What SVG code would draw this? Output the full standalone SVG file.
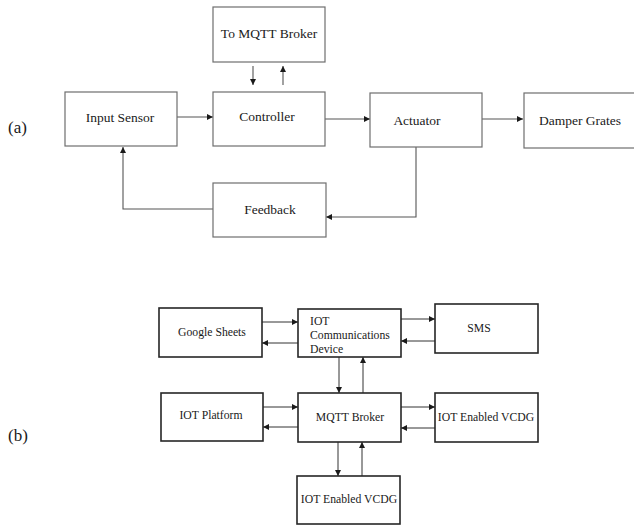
<svg xmlns="http://www.w3.org/2000/svg" width="634" height="525" viewBox="0 0 634 525">
<defs>
<style>
text{font-family:"Liberation Serif","Times New Roman",serif;fill:#1a1a1a}
.ta{font-size:13.5px}
.tb{font-size:11.7px}
.lbl{font-size:17px}
.ba{fill:#fff;stroke:#6e6e6e;stroke-width:1.2}
.bb{fill:#fff;stroke:#262626;stroke-width:1.6}
.ca{fill:none;stroke:#555;stroke-width:1.1}
.cb{fill:none;stroke:#333;stroke-width:1}
</style>
<marker id="ah" viewBox="0 0 10 10" refX="10" refY="5" markerWidth="6" markerHeight="6" markerUnits="userSpaceOnUse" orient="auto">
<path d="M0,0 L10,5 L0,10 z" fill="#1a1a1a"/>
</marker>
</defs>
<rect width="634" height="525" fill="#fff"/>
<text class="lbl" x="8" y="133">(a)</text>
<text class="lbl" x="8" y="441">(b)</text>

<g id="connectors">
<line class="ca" x1="253" y1="66" x2="253" y2="85" marker-end="url(#ah)"/>
<line class="ca" x1="283" y1="85" x2="283" y2="66" marker-end="url(#ah)"/>
<line class="ca" x1="177" y1="117" x2="213" y2="117" marker-end="url(#ah)"/>
<line class="ca" x1="325" y1="119" x2="370" y2="119" marker-end="url(#ah)"/>
<line class="ca" x1="482" y1="119" x2="523" y2="119" marker-end="url(#ah)"/>
<polyline class="ca" points="416,147 416,217 326,217" marker-end="url(#ah)"/>
<polyline class="ca" points="213,209 123,209 123,147" marker-end="url(#ah)"/>

<line class="cb" x1="262" y1="322" x2="298" y2="322" marker-end="url(#ah)"/>
<line class="cb" x1="298" y1="343" x2="262" y2="343" marker-end="url(#ah)"/>
<line class="cb" x1="401" y1="319" x2="435" y2="319" marker-end="url(#ah)"/>
<line class="cb" x1="435" y1="341" x2="401" y2="341" marker-end="url(#ah)"/>
<line class="cb" x1="339" y1="357" x2="339" y2="393" marker-end="url(#ah)"/>
<line class="cb" x1="363" y1="393" x2="363" y2="357" marker-end="url(#ah)"/>
<line class="cb" x1="263" y1="407" x2="298" y2="407" marker-end="url(#ah)"/>
<line class="cb" x1="298" y1="427" x2="263" y2="427" marker-end="url(#ah)"/>
<line class="cb" x1="401" y1="407" x2="435" y2="407" marker-end="url(#ah)"/>
<line class="cb" x1="435" y1="428" x2="401" y2="428" marker-end="url(#ah)"/>
<line class="cb" x1="338" y1="442" x2="338" y2="476" marker-end="url(#ah)"/>
<line class="cb" x1="362" y1="476" x2="362" y2="442" marker-end="url(#ah)"/>
</g>

<g id="mqtt-top"><rect class="ba" x="213" y="7" width="112" height="55"/><text class="ta" x="269" y="38" text-anchor="middle">To MQTT Broker</text></g>
<g id="input-sensor"><rect class="ba" x="65" y="92" width="112" height="54"/><text class="ta" x="120" y="122" text-anchor="middle">Input Sensor</text></g>
<g id="controller"><rect class="ba" x="213" y="92" width="112" height="54"/><text class="ta" x="267" y="121" text-anchor="middle">Controller</text></g>
<g id="actuator"><rect class="ba" x="370" y="93" width="112" height="54"/><text class="ta" x="417" y="125" text-anchor="middle">Actuator</text></g>
<g id="damper"><rect class="ba" x="524" y="93" width="115" height="55"/><text class="ta" x="580" y="125" text-anchor="middle">Damper Grates</text></g>
<g id="feedback"><rect class="ba" x="213" y="183" width="113" height="54"/><text class="ta" x="270" y="214" text-anchor="middle">Feedback</text></g>

<g id="google-sheets"><rect class="bb" x="159" y="308" width="103" height="49"/><text class="tb" x="212" y="336" text-anchor="middle">Google Sheets</text></g>
<g id="iot-comm"><rect class="bb" x="298" y="309" width="103" height="48"/><text class="tb" x="310" y="325">IOT</text><text class="tb" x="310" y="339">Communications</text><text class="tb" x="310" y="353">Device</text></g>
<g id="sms"><rect class="bb" x="435" y="304" width="103" height="49"/><text class="tb" x="479" y="332" text-anchor="middle">SMS</text></g>
<g id="iot-platform"><rect class="bb" x="161" y="393" width="102" height="48"/><text class="tb" x="211" y="419" text-anchor="middle">IOT Platform</text></g>
<g id="mqtt-broker"><rect class="bb" x="298" y="393" width="103" height="49"/><text class="tb" x="350" y="421" text-anchor="middle">MQTT Broker</text></g>
<g id="vcdg-right"><rect class="bb" x="435" y="393" width="103" height="49"/><text class="tb" x="486" y="421" text-anchor="middle">IOT Enabled VCDG</text></g>
<g id="vcdg-bottom"><rect class="bb" x="297" y="476" width="103" height="48"/><text class="tb" x="349" y="503" text-anchor="middle">IOT Enabled VCDG</text></g>
</svg>
